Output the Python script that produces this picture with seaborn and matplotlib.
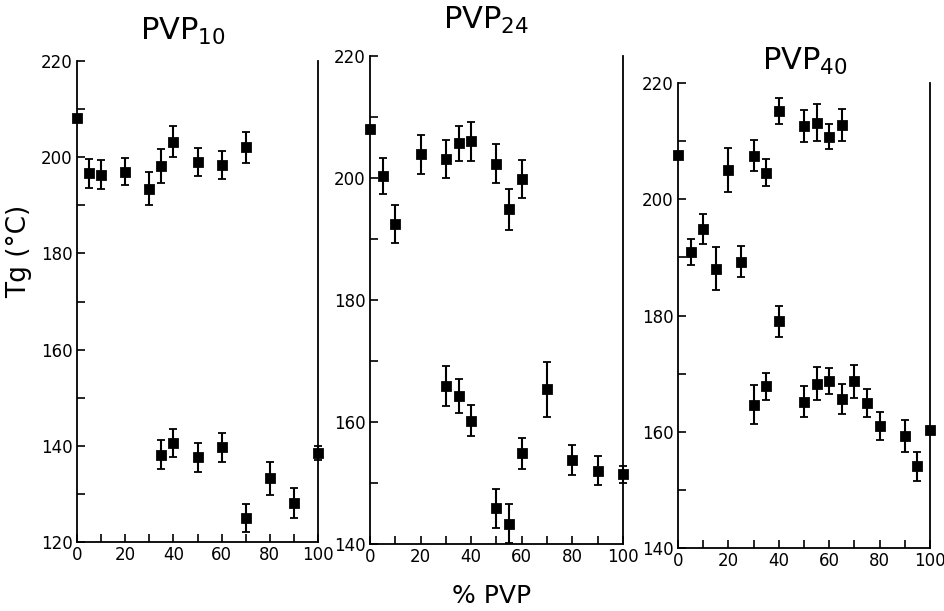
import numpy as np
import pandas as pd
import matplotlib
matplotlib.use('Agg')
import matplotlib.pyplot as plt
from matplotlib.ticker import MultipleLocator
import seaborn as sns

# DATA
pvp10_x   = [0, 5, 10, 20, 30, 35, 40, 50, 60, 70,
             35, 40, 50, 60, 70, 80, 90, 100]
pvp10_tg  = [208.1, 196.7, 196.4, 197.0, 193.5, 198.2, 203.2, 199.0, 198.4, 202.1,
             138.1, 140.5, 137.6, 139.7, 124.9, 133.2, 128.1, 138.5]
pvp10_err = [0.0, 3.0, 3.0, 2.8, 3.4, 3.6, 3.2, 2.9, 3.0, 3.2,
             3.0, 2.9, 3.0, 3.0, 2.9, 3.4, 3.2, 1.5]

pvp24_x   = [0, 5, 10, 20, 30, 35, 40, 50, 55, 60,
             30, 35, 40, 50, 55, 60, 70, 80, 90, 100]
pvp24_tg  = [207.9, 200.3, 192.4, 203.8, 203.1, 205.6, 206.0, 202.3, 194.8, 199.8,
             165.9, 164.2, 160.2, 145.8, 143.3, 154.8, 165.3, 153.7, 152.0, 151.4]
pvp24_err = [0.0, 2.9, 3.1, 3.2, 3.1, 2.9, 3.2, 3.2, 3.3, 3.1,
             3.3, 2.8, 2.5, 3.2, 3.2, 2.6, 4.5, 2.5, 2.4, 1.4]

pvp40_x   = [0, 5, 10, 15, 20, 25, 30, 35, 40, 50, 55, 60, 65,
             40, 30, 35, 50, 55, 60, 65, 70, 75, 80, 90, 95, 100]
pvp40_tg  = [207.7, 190.9, 194.9, 188.1, 205.0, 189.3, 207.5, 204.6, 215.2, 212.6, 213.2, 210.8, 212.8,
             179.0, 164.7, 167.8, 165.2, 168.3, 168.7, 165.7, 168.7, 164.9, 161.0, 159.3, 154.1, 160.3]
pvp40_err = [0.0, 2.2, 2.6, 3.7, 3.8, 2.6, 2.7, 2.3, 2.2, 2.7, 3.2, 2.2, 2.8,
             2.7, 3.4, 2.3, 2.7, 2.8, 2.2, 2.6, 2.8, 2.4, 2.4, 2.7, 2.5, 0.0]

titles  = ['PVP$_{10}$', 'PVP$_{24}$', 'PVP$_{40}$']
y_lims  = [(120, 220), (140, 220), (140, 220)]
x_ticks = [0, 20, 40, 60, 80, 100]

sns.set_style('ticks')
plt.rcParams['font.family'] = ['DejaVu Sans']
for k in ['text.color', 'axes.labelcolor', 'xtick.color', 'ytick.color', 'axes.edgecolor']:
    plt.rcParams[k] = 'black'

fig = plt.figure(figsize=(9.45, 6.11), dpi=100)
# axes boxes, in figure fractions
boxes = [[0.0815, 0.113, 0.255, 0.787],
         [0.3915, 0.110, 0.2677, 0.799],
         [0.7175, 0.103, 0.2667, 0.761]]
# title centres, in figure fractions
title_pos = [(0.193, 0.949), (0.514, 0.966), (0.852, 0.90)]

panels = [(pvp10_x, pvp10_tg, pvp10_err),
          (pvp24_x, pvp24_tg, pvp24_err),
          (pvp40_x, pvp40_tg, pvp40_err)]

for i, (xs, ys, es) in enumerate(panels):
    ax = fig.add_axes(boxes[i])
    df = pd.DataFrame({'pvp': xs, 'tg': ys, 'err': es})
    ax.errorbar(df['pvp'], df['tg'], yerr=df['err'], fmt='none',
                ecolor='black', elinewidth=1.5, capsize=3, capthick=1.3,
                clip_on=False)
    sns.scatterplot(data=df, x='pvp', y='tg', marker='s', s=50,
                    color='black', edgecolor='black', ax=ax, clip_on=False,
                    zorder=3)
    ax.set_xlim(0, 100)
    ax.set_ylim(*y_lims[i])
    ax.set_xticks(x_ticks)
    ax.xaxis.set_minor_locator(MultipleLocator(10))
    ax.yaxis.set_major_locator(MultipleLocator(20))
    ax.yaxis.set_minor_locator(MultipleLocator(10))
    ax.tick_params(which='both', direction='in', length=6, width=1.2,
                   labelsize=12, pad=3)
    ax.tick_params(axis='y', which='both', right=False)
    ax.tick_params(axis='x', which='both', top=False)
    ax.spines['top'].set_visible(False)
    for s in ['left', 'right', 'bottom']:
        ax.spines[s].set_linewidth(1.3)
    ax.set_xlabel('')
    ax.set_ylabel('')
    fig.text(title_pos[i][0], title_pos[i][1], titles[i], fontsize=22,
             ha='center', va='center')

fig.text(0.02, 0.589, 'Tg (\u00b0C)', rotation=90, fontsize=19,
         ha='center', va='center')
fig.text(0.52, 0.025, '% PVP', fontsize=18, ha='center', va='center')

plt.savefig('out.png', dpi=100)
